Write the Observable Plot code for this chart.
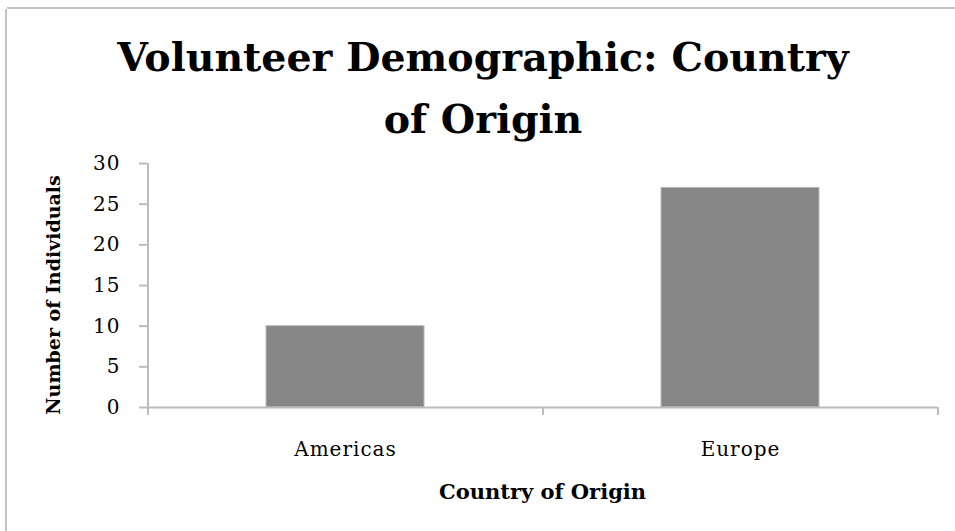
<!DOCTYPE html>
<html><head><meta charset="utf-8">
<script src="https://cdn.jsdelivr.net/npm/d3@7"></script>
<script src="https://cdn.jsdelivr.net/npm/@observablehq/plot@0.6"></script>
<style>
body{margin:0;background:#fff;}
#wrap{position:relative;width:955px;height:531px;overflow:hidden;background:#fff;}
.bt{position:absolute;left:7px;top:7px;width:960px;height:2px;background:#c3c3c3;}
.bl{position:absolute;left:5px;top:9px;width:2px;height:540px;background:#c3c3c3;}
#title{position:absolute;left:0;top:26px;width:966px;text-align:center;font-family:"DejaVu Serif";font-weight:bold;font-size:39.5px;line-height:62px;color:#000;}
#chart{position:absolute;left:0;top:150px;}
#chart svg [aria-label="x-axis tick label"] text{letter-spacing:1px;}
#chart svg [aria-label="y-axis tick label"] text{letter-spacing:1px;}
</style></head><body>
<div id="wrap"><div class="bt"></div><div class="bl"></div>
<div id="title">Volunteer Demographic: Country<br>of Origin</div>
<div id="chart"></div></div>
<script>
const categories = ["Americas", "Europe"];
const counts = [10, 27];
const yTicks = [0, 5, 10, 15, 20, 25, 30];
const xLabel = "Country of Origin";
const yLabel = "Number of Individuals";

const data = categories.map((c, i) => ({category: c, count: counts[i]}));
const gray = "#bcbcbc";
const W = 955, H = 381, mL = 147, mR = 18, mT = 13, mB = 124;
const half = (W - mL - mR) / categories.length / 2;

const plot = Plot.plot({
  width: W, height: H, marginTop: mT, marginBottom: mB, marginLeft: mL, marginRight: mR,
  style: {fontFamily: "DejaVu Serif", fontSize: "20px", color: "#000", background: "transparent", overflow: "visible"},
  x: {domain: categories, paddingInner: 0.6, paddingOuter: 0.3, label: null},
  y: {domain: [0, 30], label: null},
  marks: [
    Plot.barY(data, {x: "category", y: "count", fill: "#868686", stroke: "#bababa", strokeWidth: 1}),
    Plot.ruleX([categories[0]], {x: d => d, y1: 0, y2: 30, dx: -half, stroke: gray, strokeWidth: 2}),
    Plot.ruleY([0], {stroke: gray, strokeWidth: 2}),
    Plot.axisY({ticks: yTicks, tickSize: 8, tickPadding: 19, stroke: gray, strokeWidth: 2, fill: "#000", fontSize: 20, label: null, tickFormat: d => String(d)}),
    Plot.axisX({tickSize: 0, tickPadding: 34, label: null, fill: "#000", fontSize: 20}),
    Plot.axisX({ticks: categories, tickSize: 8, dx: -half, stroke: gray, strokeWidth: 2, tickFormat: () => "", label: null}),
    Plot.axisX({ticks: [categories[categories.length - 1]], tickSize: 8, dx: half, stroke: gray, strokeWidth: 2, tickFormat: () => "", label: null}),
    Plot.text([yLabel], {frameAnchor: "left", textAnchor: "middle", rotate: -90, dx: -94, dy: 9.5, fontWeight: "bold", fontSize: 19, fill: "#000"}),
    Plot.text([xLabel], {frameAnchor: "bottom", textAnchor: "middle", dy: 91, fontWeight: "bold", fontSize: 21, fill: "#000"})
  ]
});
document.getElementById("chart").appendChild(plot);
</script>
</body></html>
